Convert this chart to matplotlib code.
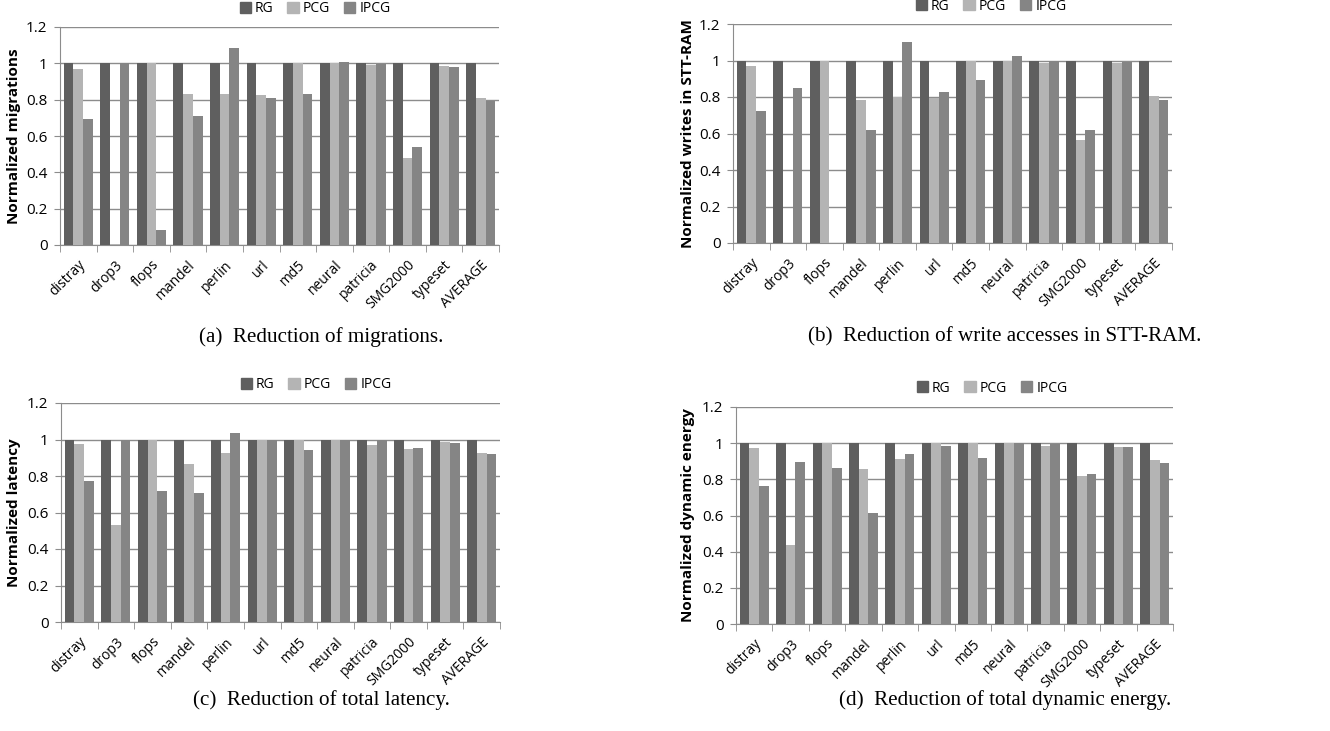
import matplotlib
matplotlib.use("Agg")
import matplotlib.pyplot as plt
import numpy as np
from matplotlib.patches import Patch

categories = ["distray", "drop3", "flops", "mandel", "perlin", "url", "md5",
              "neural", "patricia", "SMG2000", "typeset", "AVERAGE"]
series_names = ["RG", "PCG", "IPCG"]

rg = [1.0] * 12

mig_pcg = [0.97, 0.005, 1.0, 0.83, 0.83, 0.825, 1.0, 1.0, 0.99, 0.48, 0.985, 0.81]
mig_ipcg = [0.695, 1.0, 0.08, 0.71, 1.085, 0.81, 0.83, 1.005, 0.995, 0.54, 0.98, 0.795]

wr_pcg = [0.97, 0.0, 1.0, 0.785, 0.80, 0.795, 1.0, 1.0, 0.985, 0.565, 0.985, 0.805]
wr_ipcg = [0.725, 0.85, 0.0, 0.62, 1.10, 0.825, 0.895, 1.025, 0.995, 0.62, 0.99, 0.785]

lat_pcg = [0.975, 0.53, 1.0, 0.865, 0.925, 1.0, 1.0, 1.0, 0.97, 0.95, 0.985, 0.925]
lat_ipcg = [0.77, 1.0, 0.72, 0.705, 1.035, 1.0, 0.945, 1.0, 1.0, 0.955, 0.98, 0.92]

en_pcg = [0.975, 0.435, 1.0, 0.855, 0.915, 1.0, 1.0, 1.0, 0.985, 0.82, 0.98, 0.905]
en_ipcg = [0.765, 0.895, 0.865, 0.615, 0.94, 0.985, 0.92, 1.0, 0.995, 0.83, 0.98, 0.89]

ylabels = ["Normalized migrations", "Normalized writes in STT-RAM",
           "Normalized latency", "Normalized dynamic energy"]
captions = ["(a)  Reduction of migrations.", "(b)  Reduction of write accesses in STT-RAM.",
            "(c)  Reduction of total latency.", "(d)  Reduction of total dynamic energy."]
yticks = [0, 0.2, 0.4, 0.6, 0.8, 1, 1.2]
ytick_labels = ["0", "0.2", "0.4", "0.6", "0.8", "1", "1.2"]

colors = ["#5f5f5f", "#b4b4b4", "#858585"]
W, H = 1330, 731
fig = plt.figure(figsize=(W / 100, H / 100), dpi=100)
plt.rcParams['font.family'] = ['Open Sans', 'DejaVu Sans']

# axes boxes in pixels: left, top, right, bottom
boxes = [(60, 27, 499, 245), (733, 24, 1172, 243), (61, 403, 500, 622), (736, 407, 1173, 624)]
legend_pos = [(315, 9), (991, 6), (316, 385), (992, 388)]
ylab_x = [14, 688, 14, 688]
cap_pos = [(321, 337), (1005, 337), (321, 700), (1005, 700)]
data = [(mig_pcg, mig_ipcg), (wr_pcg, wr_ipcg), (lat_pcg, lat_ipcg), (en_pcg, en_ipcg)]

x = np.arange(len(categories))
bw = 0.265
for i, (box, (pcg, ipcg)) in enumerate(zip(boxes, data)):
    l, t, r, b = box
    ax = fig.add_axes([l / W, (H - b) / H, (r - l) / W, (b - t) / H])
    for j, vals in enumerate([rg, pcg, ipcg]):
        ax.bar(x + (j - 1) * bw, vals, width=bw, color=colors[j], zorder=3)
    ax.set_xlim(-0.5, 11.5)
    ax.set_ylim(0, 1.2)
    ax.set_yticks(yticks)
    ax.set_yticklabels(ytick_labels, fontsize=11)
    ax.yaxis.grid(True, color="#8c8c8c", linewidth=1.0, zorder=0)
    ax.set_axisbelow(True)
    for s in ["top", "right"]:
        ax.spines[s].set_visible(False)
    ax.spines["left"].set_color("#8c8c8c")
    ax.spines["bottom"].set_color("#8c8c8c")
    ax.tick_params(axis="y", length=4, color="#8c8c8c", pad=5)
    ax.set_xticks(x)
    ax.set_xticklabels(categories, rotation=45, ha="right", rotation_mode="anchor", fontsize=10)
    ax.tick_params(axis="x", which="major", length=0, pad=9)
    ax.set_xticks(np.arange(-0.5, 12, 1), minor=True)
    ax.tick_params(axis="x", which="minor", length=5, color="#8c8c8c", direction="out")
    fig.text(ylab_x[i] / W, 1 - ((t + b) / 2) / H, ylabels[i], rotation=90, ha="center",
             va="center", fontsize=11, fontweight="bold")
    handles = [Patch(color=c) for c in colors]
    lx, ly = legend_pos[i]
    fig.legend(handles, series_names, loc="center", bbox_to_anchor=(lx / W, 1 - ly / H),
               ncol=3, frameon=False, fontsize=10, handlelength=0.8, handleheight=0.8,
               handletextpad=0.3, columnspacing=1.0, borderpad=0)
    cx, cy = cap_pos[i]
    fig.text(cx / W, 1 - cy / H, captions[i], ha="center", va="center", fontsize=15.2,
             family=["Liberation Serif", "DejaVu Serif"])

fig.savefig("out.png", dpi=100)
